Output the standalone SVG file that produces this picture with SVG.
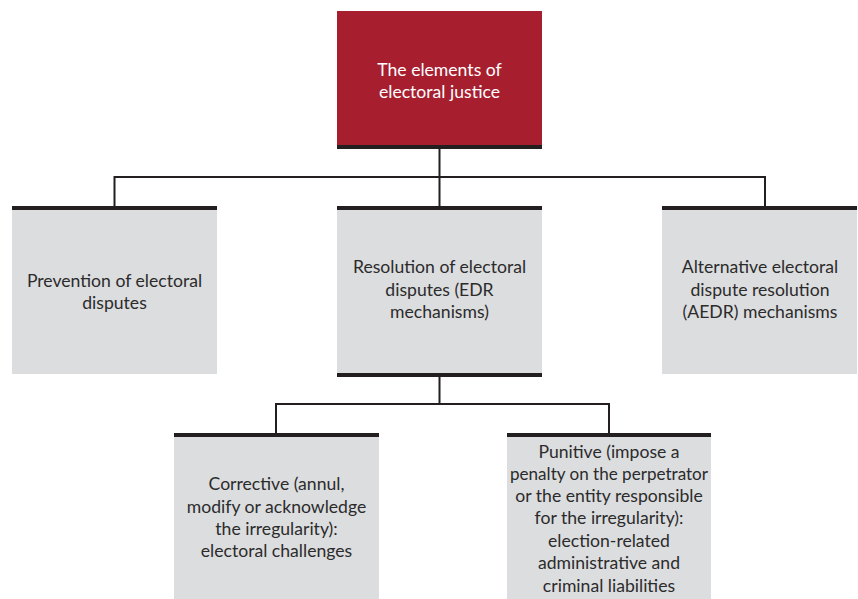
<svg xmlns="http://www.w3.org/2000/svg" width="858" height="599" viewBox="0 0 858 599">
<style>
.box{fill:#dcdddf}
.bar{fill:#231f20}
.t{font-family:Lato,"Liberation Sans",sans-serif;font-size:17.6px;fill:#2b2b2b;text-anchor:middle}
.w{fill:#ffffff}
.c{fill:none;stroke:#231f20;stroke-width:2}
</style>
<rect width="858" height="599" fill="#ffffff"/>
<g id="connectors">
<path class="c" d="M439.5 149V206M114.5 206V177H765V206"/>
<path class="c" d="M439.5 377V404M276 433V404H609V433"/>
</g>
<g id="root">
<rect x="337" y="11" width="205" height="134" fill="#a71e2f"/>
<rect class="bar" x="337" y="145" width="205" height="4"/>
<text class="t w" x="439.5" y="76">The elements of</text>
<text class="t w" x="439.5" y="98">electoral justice</text>
</g>
<g id="prevention">
<rect class="box" x="12" y="210" width="205" height="164"/>
<rect class="bar" x="12" y="206" width="205" height="4"/>
<text class="t" x="114.5" y="287">Prevention of electoral</text>
<text class="t" x="114.5" y="309">disputes</text>
</g>
<g id="resolution">
<rect class="box" x="337" y="210" width="205" height="163"/>
<rect class="bar" x="337" y="206" width="205" height="4"/>
<rect class="bar" x="337" y="373" width="205" height="4"/>
<text class="t" x="439.5" y="273">Resolution of electoral</text>
<text class="t" x="439.5" y="296">disputes (EDR</text>
<text class="t" x="439.5" y="318">mechanisms)</text>
</g>
<g id="alternative">
<rect class="box" x="662" y="210" width="195" height="164"/>
<rect class="bar" x="662" y="206" width="195" height="4"/>
<text class="t" x="760" y="273">Alternative electoral</text>
<text class="t" x="760" y="296">dispute resolution</text>
<text class="t" x="760" y="318">(AEDR) mechanisms</text>
</g>
<g id="corrective">
<rect class="box" x="174" y="437" width="205" height="162"/>
<rect class="bar" x="174" y="433" width="205" height="4"/>
<text class="t" x="276.5" y="490">Corrective (annul,</text>
<text class="t" x="276.5" y="513">modify or acknowledge</text>
<text class="t" x="276.5" y="535">the irregularity):</text>
<text class="t" x="276.5" y="557">electoral challenges</text>
</g>
<g id="punitive">
<rect class="box" x="507" y="437" width="204" height="162"/>
<rect class="bar" x="507" y="433" width="204" height="4"/>
<text class="t" x="609" y="458">Punitive (impose a</text>
<text class="t" x="609" y="480" textLength="198" lengthAdjust="spacingAndGlyphs">penalty on the perpetrator</text>
<text class="t" x="609" y="502">or the entity responsible</text>
<text class="t" x="609" y="524">for the irregularity):</text>
<text class="t" x="609" y="547">election-related</text>
<text class="t" x="609" y="569">administrative and</text>
<text class="t" x="609" y="592">criminal liabilities</text>
</g>
</svg>
